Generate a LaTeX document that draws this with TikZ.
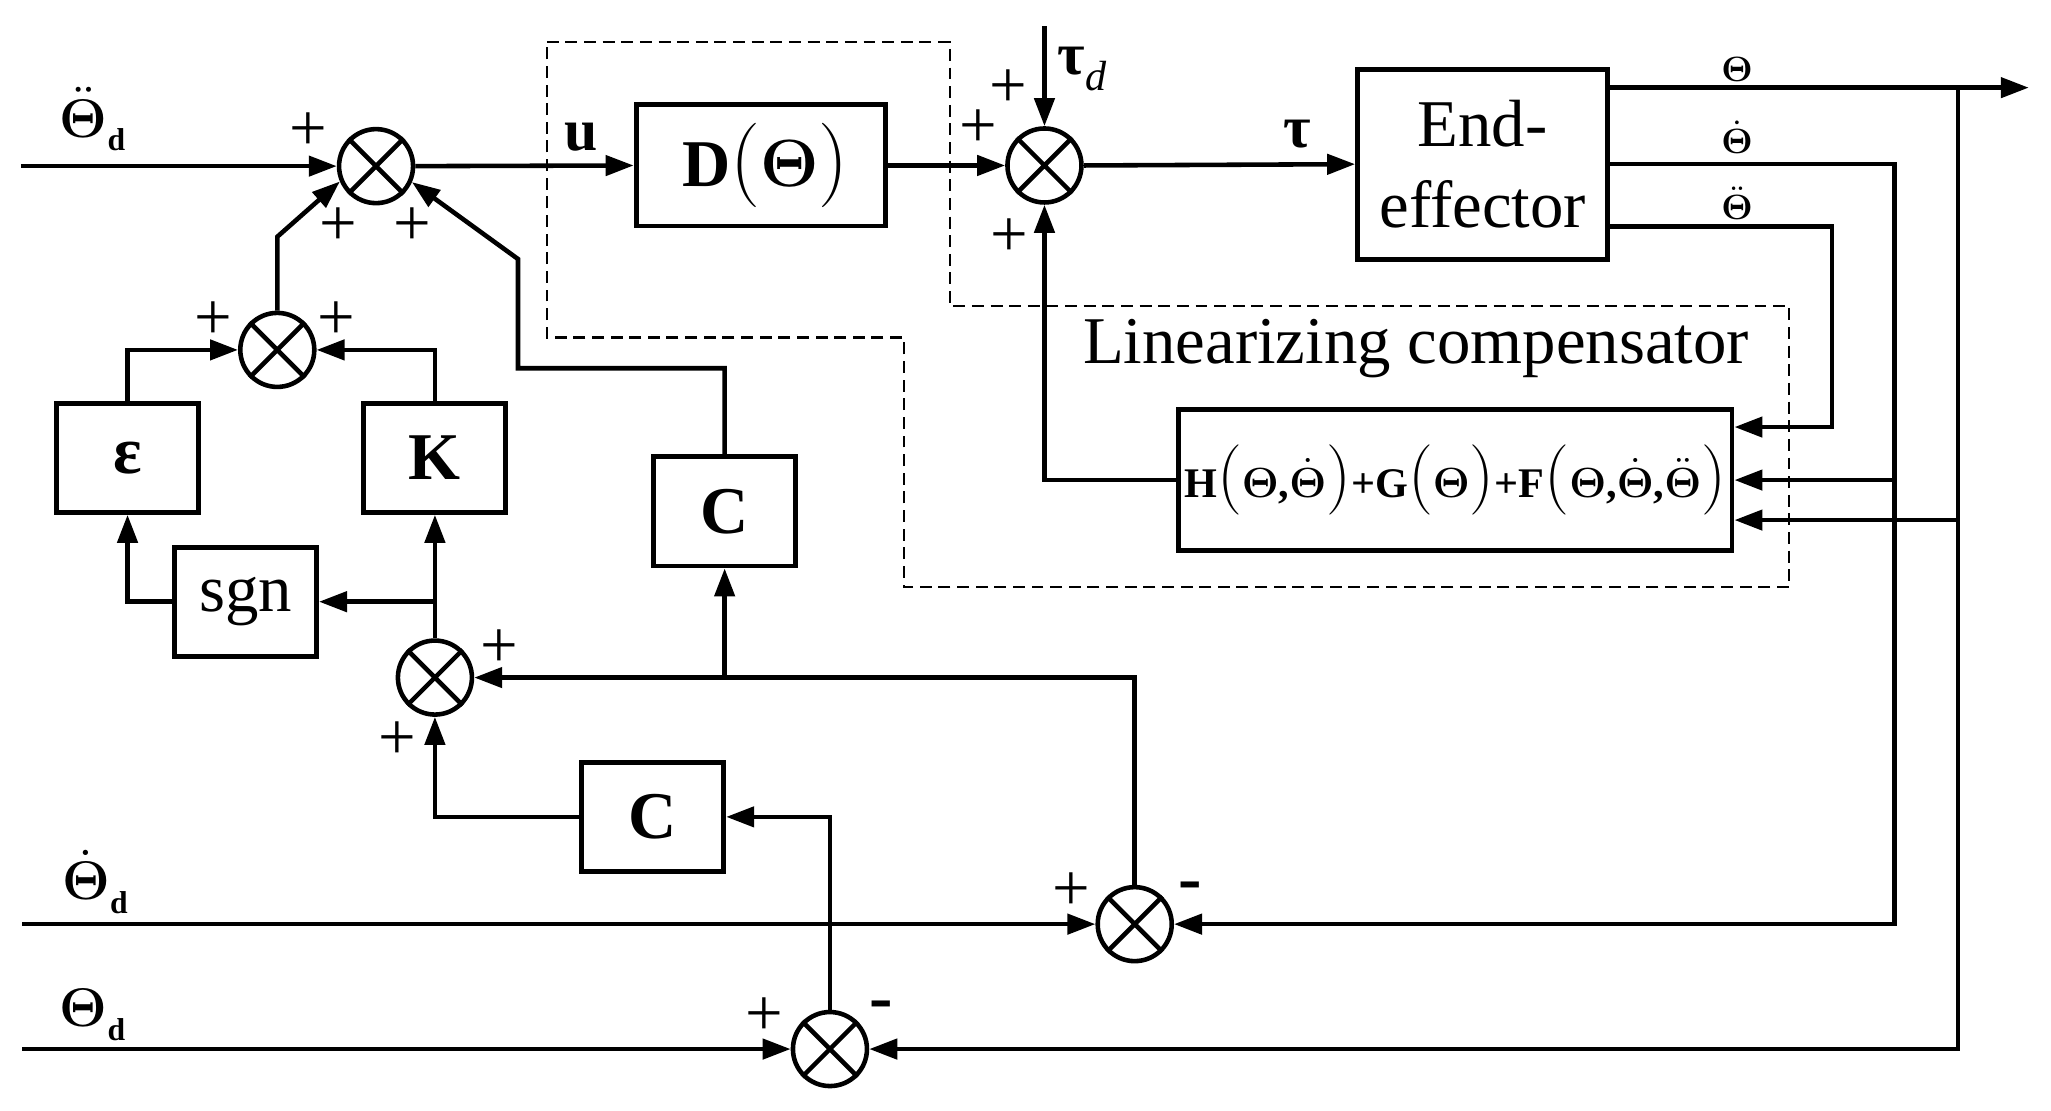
\RequirePackage{fix-cm}
\documentclass[tikz,border=0pt]{standalone}
\usepackage{amsmath}
\usepackage[no-math]{fontspec}
\setmainfont{Liberation Serif}
\usetikzlibrary{arrows.meta}
\newcommand{\fsz}[1]{\fontsize{#1}{#1}\selectfont}
\newcommand{\Thb}{\mathbf{\Theta}}
\newcommand{\lpar}[1]{{\fsz{#1}\((\)}}
\newcommand{\rpar}[1]{{\fsz{#1}\()\)}}

\begin{document}
\begin{tikzpicture}[x=0.01308cm, y=-0.01308cm, line width=1.3pt,
    >={Triangle[length=2.8mm,width=2mm]},
    blk/.style={draw, line width=1.4pt, inner sep=0pt},
    sbox/.style={blk, minimum width=1.42cm, minimum height=1.09cm, font=\fsz{19}\bfseries},
    sumc/.style={circle, draw, minimum size=0.74cm, inner sep=0pt},
    sgnmark/.style={inner sep=0pt, font=\fsz{19}},
    sig/.style={inner sep=0pt, font=\fsz{15.5}\bfseries}]
  \useasboundingbox (0,0) rectangle (1568,849);
  % summing junctions
  \node[sumc] (s1) at (287.5,127) {};
  \node[sumc] (s2) at (212,267.5) {};
  \node[sumc] (s3) at (798.5,126.5) {};
  \node[sumc] (s4) at (332.5,518) {};
  \node[sumc] (s5) at (867.5,706.5) {};
  \node[sumc] (s6) at (634.5,802) {};
  \foreach \s in {s1,s2,s3,s4,s5,s6}
    \draw (\s.45) -- (\s.225) (\s.135) -- (\s.315);
  % blocks
  \node[blk, minimum width=2.49cm, minimum height=1.21cm, font=\fsz{19}\bfseries] (D) at (581.5,126.5)
    {\hspace{0.1cm}D\lpar{24}\(\Thb\)\rpar{24}};
  \node[blk, minimum width=2.5cm, minimum height=1.9cm, align=center, font=\fontsize{19}{23}\selectfont] (E) at (1133.5,125.5) {End-\\effector};
  \node[blk, minimum width=5.535cm, minimum height=1.415cm, font=\fsz{12}\bfseries] (H) at (1112.5,367)
    {H\lpar{20}\(\Thb\),\(\dot{\Thb}\)\rpar{20}+G\lpar{20}\(\Thb\)\rpar{20}+F\lpar{20}\(\Thb\),\(\dot{\Thb}\),\(\ddot{\Thb}\)\rpar{20}};
  \node[sbox] (eps) at (97.5,350) {ε};
  \node[sbox] (K) at (332.5,350) {K};
  \node[sbox, font=\fsz{19}] (sgn) at (187.7,460) {sgn};
  \node[sbox] (C1) at (554,391) {C};
  \node[sbox] (C2) at (499,624.5) {C};
  % free ends and branch points
  \coordinate (inA) at (16,127);
  \coordinate (inB) at (17,706.5);
  \coordinate (inC) at (17,802);
  \coordinate (tdin) at (798.5,20);
  \coordinate (thout) at (1551,67);
  \coordinate (jth) at (1497,67);
  \coordinate (jthd) at (1448.5,125.5);
  \coordinate (jthdd) at (1400.5,173);
  \coordinate (h1) at ([yshift=0.53cm]H.east);
  \coordinate (h3) at ([yshift=-0.40cm]H.east);
  % forward path
  \draw[->] (inA) -- (s1.west);
  \draw[->] (s1.east) -- (D.west);
  \draw[->] (D.east) -- (s3.west);
  \draw[->] (tdin) -- (s3.north);
  \draw[->] (s3.east) -- (E.west);
  \draw[->] (E.east |- jth) -- (thout);
  % feedback from the end-effector
  \draw[->] (E.east) -- (jthd) |- (s5.east);
  \draw[->] (jthd |- H.east) -- (H.east);
  \draw[->] (E.east |- jthdd) -- (jthdd) |- (h1);
  \draw[->] (jth) |- (s6.east);
  \draw[->] (jth |- h3) -- (h3);
  \draw[->] (H.west) -| (s3.south);
  % inner loop
  \draw[->] (s2.north) -- (212,181) -- (s1.203);
  \draw[->] (C1.north) |- (396,281.5) -- (396,198) -- (s1.336);
  \draw[->] (eps.north) |- (s2.west);
  \draw[->] (K.north) |- (s2.east);
  \draw[->] (sgn.west) -| (eps.south);
  \draw[->] (s4.north) -- (K.south);
  \draw[->] (s4.north |- sgn.east) -- (sgn.east);
  \draw[->] (s5.north) |- (s4.east);
  \draw[->] (C1.south |- s4.east) -- (C1.south);
  \draw[->] (s6.north) |- (C2.east);
  \draw[->] (C2.west) -| (s4.south);
  \draw[->] (inB) -- (s5.west);
  \draw[->] (inC) -- (s6.west);
  % compensator frame
  \draw[line width=0.6pt, dash pattern=on 3.4pt off 1.9pt] (418,32) -- (726,32) -- (726,234) -- (1368,234)
    -- (1368,449) -- (691,449) -- (691,258) -- (418,258) -- cycle;
  \node[anchor=base, font=\fsz{19}] (lin) at (1082.5,278) {Linearizing compensator};
  % signal labels
  \node[sig, anchor=base west] (lthdd) at (44,105) {\(\ddot{\Thb}\)\raisebox{-3.8pt}{\fsz{9}d}};
  \node[sig, anchor=base west] (lthd) at (46,688) {\(\dot{\Thb}\)\raisebox{-3.8pt}{\fsz{9}d}};
  \node[sig, anchor=base west] (lth) at (44,785) {\(\Thb\)\raisebox{-3.8pt}{\fsz{9}d}};
  \node[anchor=base, inner sep=0pt, font=\fsz{17}\bfseries] (lu) at (444,115) {u};
  \node[anchor=base, inner sep=0pt, font=\fsz{17}\bfseries] (ltau) at (992,113) {τ};
  \node[anchor=base west, inner sep=0pt, font=\fsz{17}\bfseries] (ltaud) at (807,57) {τ\raisebox{-4.5pt}{\fsz{12}\normalfont\itshape d}};
  \node[anchor=base, inner sep=0pt, font=\fsz{10}\bfseries] (lo1) at (1328,62) {\(\Thb\)};
  \node[anchor=base, inner sep=0pt, font=\fsz{10}\bfseries] (lo2) at (1328,117) {\(\dot{\Thb}\)};
  \node[anchor=base, inner sep=0pt, font=\fsz{10}\bfseries] (lo3) at (1328,168) {\(\ddot{\Thb}\)};
  % signs
  \foreach \p [count=\i] in {(236,101),(259,173.5),(315,173.5),(163,245),(257,245),(748,98),(770.5,67.5),
      (771.5,182),(382,495.5),(304,566.5),(819,682),(584,777.5)}
    \node[sgnmark] (pl\i) at \p {+};
  \node[sgnmark, anchor=base, font=\fsz{20}\bfseries] (mi1) at (910,689.3) {-};
  \node[sgnmark, anchor=base, font=\fsz{20}\bfseries] (mi2) at (673.5,779.8) {-};
\end{tikzpicture}
\end{document}
